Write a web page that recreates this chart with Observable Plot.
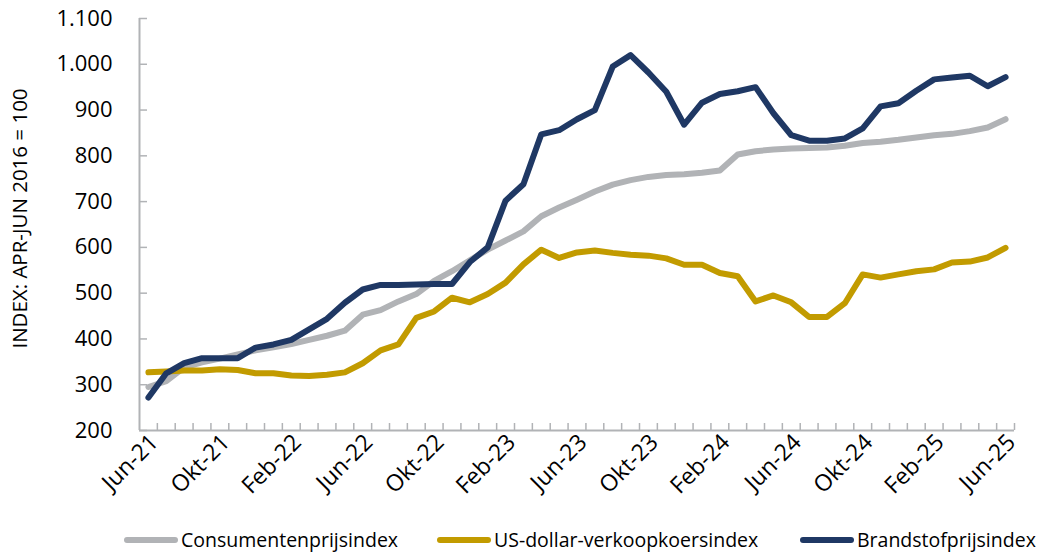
<!DOCTYPE html>
<html><head><meta charset="utf-8">
<script src="https://cdn.jsdelivr.net/npm/d3@7"></script>
<script src="https://cdn.jsdelivr.net/npm/@observablehq/plot@0.6"></script>
<style>
body{margin:0;background:#fff;font-family:"Open Sans",sans-serif;}
#chart{position:relative;width:1045px;height:555px;}
.legend{position:absolute;top:527px;left:0;width:1045px;height:26px;}
.item{position:absolute;top:0;display:flex;align-items:center;height:26px;line-height:26px;font-size:19.5px;color:#000;white-space:nowrap;}
.sw{width:54px;height:6px;border-radius:3px;margin-right:3px;}
</style></head><body><div id="chart"></div>
<script>
const months = ["Jun-21","Jul-21","Aug-21","Sep-21","Okt-21","Nov-21","Dec-21","Jan-22","Feb-22","Mrt-22","Apr-22","Mei-22",
"Jun-22","Jul-22","Aug-22","Sep-22","Okt-22","Nov-22","Dec-22","Jan-23","Feb-23","Mrt-23","Apr-23","Mei-23",
"Jun-23","Jul-23","Aug-23","Sep-23","Okt-23","Nov-23","Dec-23","Jan-24","Feb-24","Mrt-24","Apr-24","Mei-24",
"Jun-24","Jul-24","Aug-24","Sep-24","Okt-24","Nov-24","Dec-24","Jan-25","Feb-25","Mrt-25","Apr-25","Mei-25","Jun-25"];
const consumentenprijs = [295,308,338,349,357,366,375,382,389,398,407,418,453,463,482,498,527,548,572,595,615,635,668,687,704,722,737,747,754,758,760,763,768,803,810,814,816,817,818,822,828,831,835,840,845,848,854,862,880];
const usdollar = [327,329,331,331,334,332,325,325,320,319,322,327,347,375,388,446,460,490,480,498,523,563,595,577,589,593,588,584,582,576,562,562,544,537,482,495,480,448,448,478,541,534,541,548,552,567,569,578,599];
const brandstof = [272,325,347,358,358,358,381,388,398,421,444,479,508,518,518,519,520,520,568,600,702,738,847,856,880,900,995,1020,982,940,868,916,935,941,950,893,845,833,833,838,860,908,915,942,967,971,975,952,972];
const seriesNames = ["Consumentenprijsindex","US-dollar-verkoopkoersindex","Brandstofprijsindex"];
const seriesValues = [consumentenprijs, usdollar, brandstof];
const colors = ["#B1B3B6","#C29B00","#1F3864"];
const yTicks = [200,300,400,500,600,700,800,900,1000,1100];
const yLabel = "INDEX: APR-JUN 2016 = 100";

const rows = [];
seriesNames.forEach((s, k) => seriesValues[k].forEach((v, i) => rows.push({series: s, i, month: months[i], value: v})));
const nl = d3.formatLocale({decimal: ",", thousands: ".", grouping: [3], currency: ["€", ""]});
const fmt = nl.format(",");
const axisGrey = "#B1B3B6";
const W = 1045, H = 520, mL = 139, mR = 31, mT = 18, mB = 90;
const fw = W - mL - mR, fh = H - mT - mB;
const boundaries = d3.range(0, months.length).map(i => i + 0.5);

const chart = Plot.plot({
  width: W, height: H, marginLeft: mL, marginRight: mR, marginTop: mT, marginBottom: mB,
  style: {fontFamily: "Open Sans", fontSize: "21px", color: "#000", background: "#fff"},
  x: {type: "linear", domain: [-0.5, months.length - 0.5]},
  y: {domain: [200, 1100]},
  color: {domain: seriesNames, range: colors},
  marks: [
    Plot.tickY(yTicks, {y: d => d, stroke: axisGrey, strokeWidth: 1.5, insetRight: fw - 8}),
    Plot.tickX(boundaries, {x: d => d, stroke: axisGrey, strokeWidth: 1.5, insetTop: fh - 7}),
    Plot.ruleX([-0.5], {stroke: axisGrey, strokeWidth: 2}),
    Plot.ruleY([200], {stroke: axisGrey, strokeWidth: 2}),
    Plot.axisY({ticks: yTicks, tickSize: 0, tickPadding: 27, tickFormat: fmt, fontSize: 22, label: null}),
    Plot.text([yLabel], {frameAnchor: "left", textAnchor: "middle", lineAnchor: "middle", dx: -119, dy: -6, rotate: -90, fontSize: 20.5, text: d => d}),
    Plot.axisX({ticks: d3.range(0, months.length, 4), tickSize: 0, tickRotate: -45, tickPadding: 8, dx: 6, fontSize: 23, tickFormat: i => months[i], label: null}),
    Plot.line(rows, {x: "i", y: "value", z: "series", stroke: "series", strokeWidth: 6, strokeLinejoin: "round", strokeLinecap: "round"})
  ]
});
const container = document.getElementById("chart");
container.appendChild(chart);

const legend = document.createElement("div");
legend.className = "legend";
const lefts = [124, 437, 800];
seriesNames.forEach((s, k) => {
  const it = document.createElement("div");
  it.className = "item";
  it.style.left = lefts[k] + "px";
  const sw = document.createElement("span");
  sw.className = "sw";
  sw.style.background = colors[k];
  const t = document.createElement("span");
  t.textContent = s;
  it.appendChild(sw); it.appendChild(t);
  legend.appendChild(it);
});
container.appendChild(legend);
</script></body></html>
